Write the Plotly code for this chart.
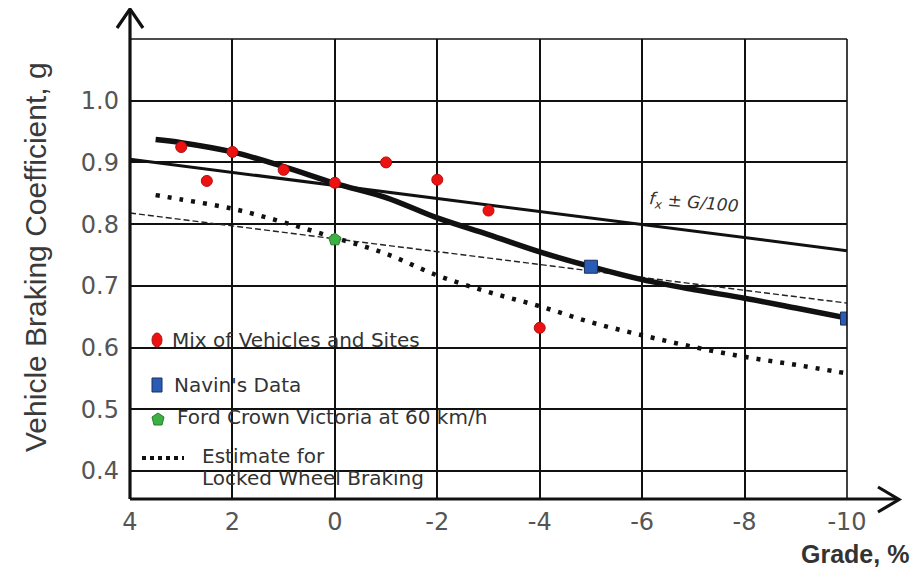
import plotly.graph_objects as go

# ---------------- data ----------------
mix_grade = [3, 2.5, 2, 1, 0, -1, -2, -3, -4]
mix_coef = [0.925, 0.87, 0.917, 0.888, 0.867, 0.90, 0.872, 0.822, 0.632]

navin_grade = [-5, -10]
navin_coef = [0.731, 0.647]

ford_grade = [0]
ford_coef = [0.775]

fit_grade = [3.5, 3, 2, 1, 0, -1, -2, -3, -4, -5, -6, -7, -8, -9, -10]
fit_coef = [0.937, 0.932, 0.917, 0.893, 0.866, 0.843, 0.81, 0.783, 0.755, 0.731,
            0.71, 0.694, 0.68, 0.664, 0.648]

theory_grade = [4, -10]
theory_coef = [0.905, 0.757]

thin_dash_grade = [4, -10]
thin_dash_coef = [0.818, 0.672]

locked_grade = [3.5, 3, 2, 1, 0, -1, -2, -3, -4, -5, -6, -7, -8, -9, -10]
locked_coef = [0.847, 0.84, 0.825, 0.803, 0.778, 0.752, 0.717, 0.69, 0.667, 0.641,
               0.62, 0.601, 0.585, 0.572, 0.558]

x_ticks = [4, 2, 0, -2, -4, -6, -8, -10]
y_ticks = [0.4, 0.5, 0.6, 0.7, 0.8, 0.9, 1.0]
y_tick_text = ["0.4", "0.5", "0.6", "0.7", "0.8", "0.9", "1.0"]

X_RANGE = [4, -10]
Y_RANGE = [0.3546, 1.1]

# ---------------- layout geometry (screen pixels) ----------------
OFF = 8                      # page body margin of the browser
W, H = 922 - OFF, 569 - OFF  # figure size
PL, PR, PT, PB = 130, 847, 39, 499   # plot area on screen
ML, MT = PL - OFF, PT - OFF
MR = W - (PR - OFF)
MB = H - (PB - OFF)
PW, PH = PR - PL, PB - PT


def px(xs):
    return (xs - PL) / PW


def py(ys):
    return (PB - ys) / PH


fig = go.Figure()

# curves
fig.add_trace(go.Scatter(x=theory_grade, y=theory_coef, mode="lines",
                         line=dict(color="#111111", width=3), showlegend=False))
fig.add_trace(go.Scatter(x=thin_dash_grade, y=thin_dash_coef, mode="lines",
                         line=dict(color="#222222", width=1.4, dash="6px,3px"),
                         showlegend=False))
fig.add_trace(go.Scatter(x=locked_grade, y=locked_coef, mode="lines",
                         line=dict(color="#111111", width=4.5, dash="4px,8px"),
                         line_shape="spline", showlegend=False))
fig.add_trace(go.Scatter(x=fit_grade, y=fit_coef, mode="lines",
                         line=dict(color="#111111", width=5.5), line_shape="spline",
                         showlegend=False))

# points
fig.add_trace(go.Scatter(x=mix_grade, y=mix_coef, mode="markers", showlegend=False,
                         marker=dict(symbol="circle", size=11, color="#ee1111",
                                     line=dict(color="#aa1111", width=1))))
fig.add_trace(go.Scatter(x=navin_grade, y=navin_coef, mode="markers", showlegend=False,
                         marker=dict(symbol="square", size=13, color="#2b5cb5",
                                     line=dict(color="#1a2f60", width=1))))
fig.add_trace(go.Scatter(x=ford_grade, y=ford_coef, mode="markers", showlegend=False,
                         marker=dict(symbol="pentagon", size=13, color="#3cb043",
                                     line=dict(color="#2a7a2a", width=1))))

shapes = []
# top and right borders
shapes.append(dict(type="line", xref="paper", yref="paper", x0=0, x1=1, y0=1, y1=1,
                   line=dict(color="#111", width=1.6)))
shapes.append(dict(type="line", xref="paper", yref="paper", x0=1, x1=1, y0=0, y1=1,
                   line=dict(color="#111", width=1.6)))
# thick axes with arrows
shapes.append(dict(type="line", xref="paper", yref="paper", x0=0, x1=0, y0=0, y1=py(10),
                   line=dict(color="#111", width=3.2)))
shapes.append(dict(type="path", xref="paper", yref="paper",
                   path=f"M{px(117)},{py(28)} L{px(130)},{py(9)} L{px(143)},{py(28)}",
                   line=dict(color="#111", width=3.2)))
shapes.append(dict(type="line", xref="paper", yref="paper", x0=0, x1=px(898), y0=0, y1=0,
                   line=dict(color="#111", width=3.2)))
shapes.append(dict(type="path", xref="paper", yref="paper",
                   path=f"M{px(878)},{py(487)} L{px(899)},{py(499.5)} L{px(878)},{py(512)}",
                   line=dict(color="#111", width=3.2)))

# legend swatches
shapes.append(dict(type="circle", xref="paper", yref="paper",
                   x0=px(152), x1=px(162), y0=py(347), y1=py(333),
                   fillcolor="#ee1111", line=dict(color="#aa1111", width=1)))
shapes.append(dict(type="rect", xref="paper", yref="paper",
                   x0=px(152), x1=px(162), y0=py(392), y1=py(378),
                   fillcolor="#2b5cb5", line=dict(color="#1a2f60", width=1)))
shapes.append(dict(type="path", xref="paper", yref="paper",
                   path=(f"M{px(158)},{py(413)} L{px(164)},{py(417)} L{px(162)},{py(425)} "
                         f"L{px(154)},{py(425)} L{px(152)},{py(417)} Z"),
                   fillcolor="#3cb043", line=dict(color="#2a7a2a", width=1)))
shapes.append(dict(type="line", xref="paper", yref="paper",
                   x0=px(142), x1=px(184), y0=py(458), y1=py(458),
                   line=dict(color="#111", width=4, dash="4px,4px")))

legend_font = dict(family="DejaVu Sans", size=20, color="#333333")
annotations = []
for text, xs, ys in [("Mix of Vehicles and Sites", 170, 340),
                     ("Navin's Data", 172, 385),
                     ("Ford Crown Victoria at 60 km/h", 175, 417),
                     ("Estimate for", 200, 456),
                     ("Locked Wheel Braking", 200, 478)]:
    annotations.append(dict(text=text, xref="paper", yref="paper", x=px(xs), y=py(ys),
                            xanchor="left", yanchor="middle", showarrow=False,
                            font=legend_font))

annotations.append(dict(text="<i>f<sub>x</sub> ± G/100</i>", x=-7.0, y=0.833,
                        xref="x", yref="y", showarrow=False, textangle=5,
                        font=dict(family="DejaVu Sans", size=17, color="#333333")))
annotations.append(dict(text="Vehicle Braking Coefficient, g", xref="paper", yref="paper",
                        x=px(35), y=py(257), textangle=-90, showarrow=False,
                        xanchor="center", yanchor="middle",
                        font=dict(family="Liberation Sans", size=30, color="#3a3a3a")))
annotations.append(dict(text="<b>Grade, %</b>", xref="paper", yref="paper",
                        x=px(911), y=py(554), showarrow=False,
                        xanchor="right", yanchor="middle",
                        font=dict(family="Liberation Sans", size=25, color="#333333")))

fig.update_layout(
    width=W, height=H,
    margin=dict(l=ML, r=MR, t=MT, b=MB),
    paper_bgcolor="white", plot_bgcolor="white",
    shapes=shapes, annotations=annotations,
    xaxis=dict(range=X_RANGE, tickvals=x_ticks, ticktext=[str(v) for v in x_ticks],
               showgrid=True, gridcolor="#111111", gridwidth=1.6, zeroline=False,
               showline=False, ticks="", ticklabelstandoff=6,
               tickfont=dict(family="DejaVu Sans", size=24, color="#555555")),
    yaxis=dict(range=Y_RANGE, tickvals=y_ticks, ticktext=y_tick_text,
               showgrid=True, gridcolor="#111111", gridwidth=1.6, zeroline=False,
               showline=False, ticks="", ticklabelstandoff=10,
               tickfont=dict(family="DejaVu Sans", size=24, color="#555555")),
    showlegend=False,
)

fig.write_html("out.html")
